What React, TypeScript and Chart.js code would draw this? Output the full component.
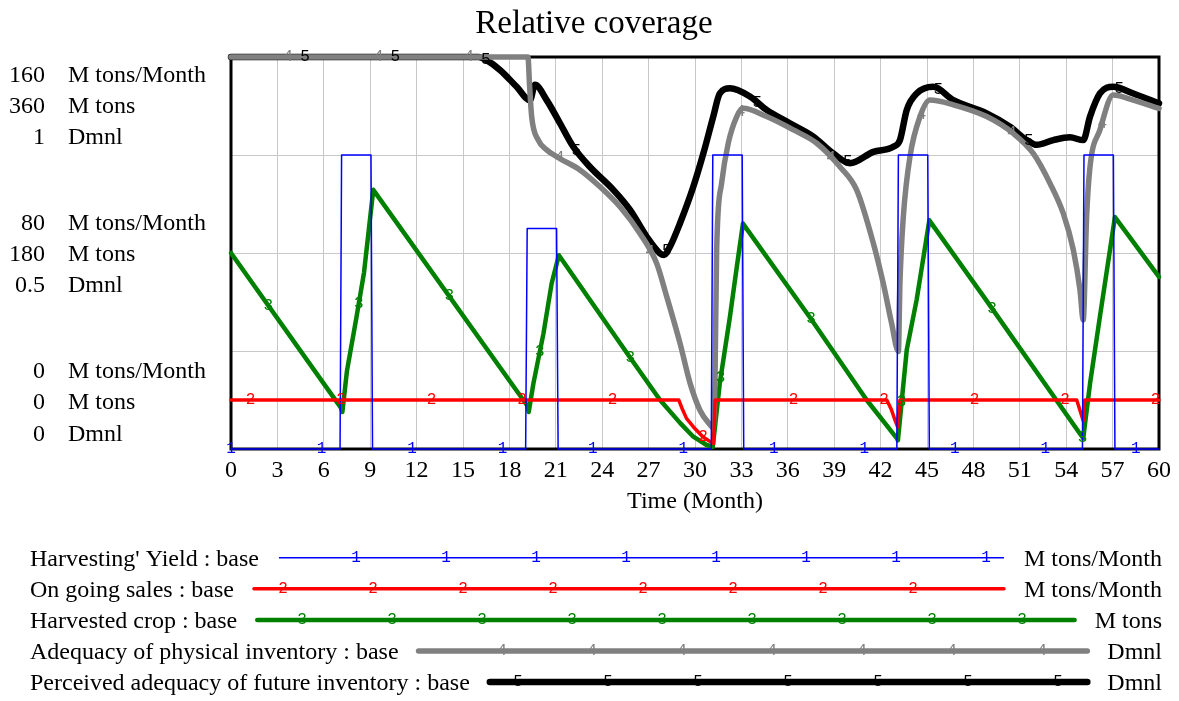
import { useEffect, useRef } from 'react';
import { Chart, registerables } from 'chart.js';

Chart.register(...registerables);

// ---------- text ----------
const TITLE = 'Relative coverage';
const X_TITLE = 'Time (Month)';
const SERIES_NAMES = [
  "Harvesting' Yield : base",
  'On going sales : base',
  'Harvested crop : base',
  'Adequacy of physical inventory : base',
  'Perceived adequacy of future inventory : base',
];
const SERIES_UNITS = ['M tons/Month', 'M tons/Month', 'M tons', 'Dmnl', 'Dmnl'];
const SERIES_MARKS = ['1', '2', '3', '4', '5'];
const AXIS_UNITS = ['M tons/Month', 'M tons', 'Dmnl'];
const RATE_TICKS = ['160', '80', '0'];
const TON_TICKS = ['360', '180', '0'];
const DMNL_TICKS = ['1', '0.5', '0'];

// ---------- data: [time (Month), value] ----------
const harvestingYield: number[][] = [
  [0, 0], [7.05, 0], [7.15, 120], [9.05, 120], [9.15, 0],
  [19.05, 0], [19.15, 90], [21.05, 90], [21.15, 0],
  [31.05, 0], [31.15, 120], [33.05, 120], [33.15, 0],
  [43.05, 0], [43.15, 120], [45.05, 120], [45.15, 0],
  [55.05, 0], [55.15, 120], [57.05, 120], [57.15, 0], [60, 0],
];
const onGoingSales: number[][] = [
  [0, 20], [28.95, 20], [29.2, 16], [29.45, 12.5], [29.9, 9], [30.5, 5], [31.0, 3], [31.2, 2.2], [31.3, 20],
  [42.4, 20], [42.7, 16], [42.95, 11.5], [43.1, 9], [43.25, 20],
  [54.68, 20], [55.1, 11.5], [55.2, 20], [60, 20],
];
const harvestedCrop: number[][] = [
  [0, 180], [7.1, 38], [7.2, 34], [7.5, 72], [8.1, 120], [8.6, 162], [9.2, 238],
  [19.15, 40], [19.25, 34], [19.55, 60], [20.2, 106], [20.73, 152], [21.2, 178],
  [25.8, 84], [27.74, 45], [29.03, 24], [29.89, 11.3], [30.75, 3.7], [31.15, 2],
  [31.6, 60], [32.26, 121.5], [32.7, 167], [33.1, 207],
  [37.4, 121.5], [41.1, 45], [43.04, 10], [43.12, 8],
  [43.69, 91], [44.33, 137], [45.15, 210],
  [48.86, 136], [54.89, 14], [55.1, 10],
  [55.54, 60], [56.18, 121.5], [57.15, 213], [60, 158],
];
const physicalAdequacy: number[][] = [
  [0, 1], [19.2, 1], [19.3, 0.93], [19.44, 0.848], [19.87, 0.788], [20.41, 0.763], [21.27, 0.741],
  [22.56, 0.712], [23.86, 0.669], [25.15, 0.618], [26.44, 0.55], [27.52, 0.474], [28.17, 0.389],
  [29.03, 0.27], [29.68, 0.168], [30.32, 0.099], [30.97, 0.062], [31.15, 0.055],
  [31.29, 0.168], [31.4, 0.508], [31.72, 0.678], [32.15, 0.78], [32.7, 0.848], [33.1, 0.869],
  [34.63, 0.848], [36.36, 0.814], [37.87, 0.78], [39.37, 0.72], [40.45, 0.661], [41.53, 0.525],
  [42.17, 0.423], [42.71, 0.321], [43.15, 0.249],
  [43.25, 0.423], [43.47, 0.593], [43.9, 0.746], [44.55, 0.848], [45.19, 0.89],
  [46.7, 0.878], [48.86, 0.848], [50.58, 0.805], [51.87, 0.754], [52.95, 0.678], [53.81, 0.601],
  [54.46, 0.508], [54.89, 0.406], [55.1, 0.329],
  [55.32, 0.593], [55.54, 0.72], [56.18, 0.814], [57.04, 0.903], [58.34, 0.89], [60, 0.869],
];
const perceivedAdequacy: number[][] = [
  [0, 1], [16.0, 1], [16.6, 0.99], [17.39, 0.967], [18.47, 0.924], [19.33, 0.89], [19.65, 0.929],
  [20.41, 0.89], [21.27, 0.831], [22.13, 0.771], [23.2, 0.72], [24.72, 0.661], [25.8, 0.61],
  [26.87, 0.542], [27.74, 0.499], [28.0, 0.495], [28.38, 0.516], [29.03, 0.576], [29.89, 0.669],
  [30.54, 0.754], [31.18, 0.848], [31.6, 0.907], [32.26, 0.92], [33.55, 0.899], [34.63, 0.865],
  [36.13, 0.831], [37.65, 0.797], [38.94, 0.754], [40.02, 0.729], [41.53, 0.758], [42.82, 0.771],
  [43.25, 0.788], [43.69, 0.865], [44.33, 0.907], [45.41, 0.924], [46.7, 0.89], [48.86, 0.856],
  [50.36, 0.822], [51.45, 0.788], [52.09, 0.776], [53.17, 0.788], [54.24, 0.795], [55.1, 0.788],
  [55.54, 0.848], [56.18, 0.907], [57.04, 0.924], [58.34, 0.907], [60, 0.882],
];

// marker label placement along each curve (months)
const MARKER_START = [0, 1.27, 2.41, 3.69, 4.78];
const MARKER_STEP = 5.85;

// ---------- styles ----------
const SERIF = '"Liberation Serif", "Times New Roman", serif';
const MARK_FONT = '"Liberation Mono", "DejaVu Sans Mono", monospace';
const COLORS = ['#0000ff', '#ff0000', '#008000', '#808080', '#000000'];
const WIDTHS = [1.5, 3.5, 4.5, 5.5, 6.5];
const AXIS_IDS = ['yR', 'yR', 'yT', 'yD', 'yD'];
const SERIES = [harvestingYield, onGoingSales, harvestedCrop, physicalAdequacy, perceivedAdequacy];
const ORDERS = [1, 2, 5, 3, 4];
const SMOOTH = [false, false, false, true, true];

function interp(series: number[][], t: number): number {
  if (t <= series[0][0]) return series[0][1];
  for (let i = 1; i < series.length; i++) {
    const [t1, v1] = series[i];
    const [t0, v0] = series[i - 1];
    if (t <= t1) {
      if (t1 === t0) return v1;
      return v0 + ((v1 - v0) * (t - t0)) / (t1 - t0);
    }
  }
  return series[series.length - 1][1];
}

const decorPlugin = {
  id: 'vensimDecor',
  beforeDatasetsDraw(chart: any) {
    const { ctx, chartArea } = chart;
    ctx.save();
    ctx.strokeStyle = '#000';
    ctx.lineWidth = 3;
    ctx.strokeRect(chartArea.left, chartArea.top, chartArea.right - chartArea.left, chartArea.bottom - chartArea.top);
    ctx.restore();
  },
  afterDatasetsDraw(chart: any) {
    const { ctx } = chart;
    const xs = chart.scales.x;
    ctx.save();
    ctx.font = `16px ${MARK_FONT}`;
    ctx.textAlign = 'center';
    ctx.textBaseline = 'middle';
    SERIES.forEach((s, i) => {
      const ys = chart.scales[AXIS_IDS[i]];
      ctx.fillStyle = COLORS[i];
      for (let t = MARKER_START[i]; t <= 60.001; t += MARKER_STEP) {
        const v = interp(s, t);
        ctx.fillText(SERIES_MARKS[i], xs.getPixelForValue(t), ys.getPixelForValue(v));
      }
    });
    ctx.restore();
  },
  afterDraw(chart: any) {
    const { ctx, chartArea } = chart;
    ctx.save();
    ctx.fillStyle = '#000';
    // title
    ctx.font = `33px ${SERIF}`;
    ctx.textAlign = 'center';
    ctx.textBaseline = 'alphabetic';
    ctx.fillText(TITLE, 594, 33);
    // x title
    ctx.font = `24px ${SERIF}`;
    ctx.fillText(X_TITLE, (chartArea.left + chartArea.right) / 2, 508);
    // y axis labels (three stacked groups)
    const tickSets = [RATE_TICKS, TON_TICKS, DMNL_TICKS];
    for (let g = 0; g < 3; g++) {
      for (let j = 0; j < 3; j++) {
        const base = 81.7 + g * 148.2 + j * 31.2;
        ctx.textAlign = 'right';
        ctx.fillText(tickSets[j][g], 45, base);
        ctx.textAlign = 'left';
        ctx.fillText(AXIS_UNITS[j], 68, base);
      }
    }
    // legend
    const legendMarkX = [356, 283, 302, 502, 518];
    for (let i = 0; i < SERIES_NAMES.length; i++) {
      const base = 565.7 + i * 31.1;
      const ly = base - 8;
      ctx.font = `24px ${SERIF}`;
      ctx.fillStyle = '#000';
      ctx.textAlign = 'left';
      ctx.fillText(SERIES_NAMES[i], 30, base);
      const start = 30 + ctx.measureText(SERIES_NAMES[i]).width + 20;
      ctx.textAlign = 'right';
      ctx.fillText(SERIES_UNITS[i], 1162, base);
      const unitW = ctx.measureText(SERIES_UNITS[i]).width;
      const end = 1162 - unitW - 20;
      ctx.strokeStyle = COLORS[i];
      ctx.lineWidth = WIDTHS[i];
      ctx.lineCap = i === 0 ? 'butt' : 'round';
      ctx.beginPath();
      ctx.moveTo(start, ly);
      ctx.lineTo(end, ly);
      ctx.stroke();
      ctx.font = `16px ${MARK_FONT}`;
      ctx.textAlign = 'center';
      ctx.textBaseline = 'middle';
      ctx.fillStyle = COLORS[i];
      for (let x = legendMarkX[i]; x <= end - 5; x += 90) {
        ctx.fillText(SERIES_MARKS[i], x, ly);
      }
      ctx.textBaseline = 'alphabetic';
    }
    ctx.restore();
  },
};

export default function App() {
  const canvasRef = useRef<HTMLCanvasElement>(null);

  useEffect(() => {
    const canvas = canvasRef.current;
    if (!canvas) return;
    const datasets = SERIES.map((s, i) => ({
      label: SERIES_NAMES[i],
      data: s.map(([x, y]) => ({ x, y })),
      yAxisID: AXIS_IDS[i],
      borderColor: COLORS[i],
      backgroundColor: COLORS[i],
      borderWidth: WIDTHS[i],
      borderCapStyle: 'round' as const,
      borderJoinStyle: 'round' as const,
      pointRadius: 0,
      fill: false,
      tension: 0,
      cubicInterpolationMode: SMOOTH[i] ? ('monotone' as const) : ('default' as const),
      order: ORDERS[i],
      clip: false as const,
    }));
    const chart = new Chart(canvas, {
      type: 'line',
      data: { datasets },
      plugins: [decorPlugin],
      options: {
        animation: false,
        responsive: false,
        devicePixelRatio: 1,
        parsing: false as any,
        layout: { padding: { left: 231, right: 20, top: 57, bottom: 192 } },
        plugins: { legend: { display: false }, tooltip: { enabled: false }, title: { display: false } },
        scales: {
          x: {
            type: 'linear',
            min: 0,
            max: 60,
            grid: { color: '#c8c8c8', lineWidth: 1, drawTicks: false },
            border: { display: false },
            ticks: {
              stepSize: 3,
              autoSkip: false,
              maxRotation: 0,
              padding: 7,
              color: '#000',
              font: { family: SERIF, size: 24 },
            },
            afterFit: (s: any) => { s.height = 60; },
          },
          yR: {
            type: 'linear',
            position: 'left',
            min: 0,
            max: 160,
            grid: { color: '#c8c8c8', lineWidth: 1, drawTicks: false },
            border: { display: false },
            ticks: { stepSize: 40, display: false },
            afterFit: (s: any) => { s.width = 0; },
          },
          yT: { type: 'linear', display: false, min: 0, max: 360 },
          yD: { type: 'linear', display: false, min: 0, max: 1 },
        },
      },
    });
    return () => chart.destroy();
  }, []);

  return (
    <div style={{ position: 'absolute', left: 0, top: 0, width: 1179, height: 701, background: '#fff' }}>
      <canvas ref={canvasRef} width={1179} height={701} style={{ display: 'block', width: 1179, height: 701 }} />
    </div>
  );
}
